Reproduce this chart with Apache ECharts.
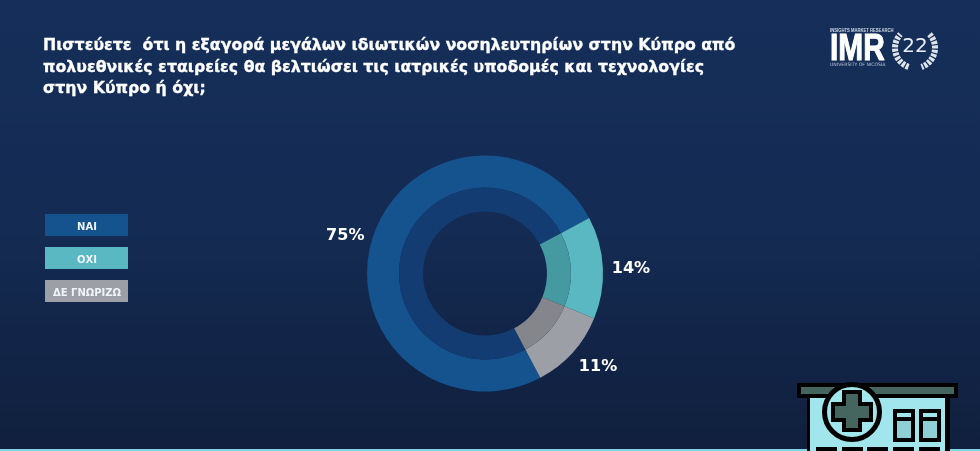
<!DOCTYPE html>
<html>
<head>
<meta charset="utf-8">
<script src="https://cdn.jsdelivr.net/npm/echarts@6/dist/echarts.min.js"></script>
<style>html,body{margin:0;padding:0;background:#11264c}#main{width:980px;height:451px}</style>
</head>
<body>
<div id="main"></div>
<script>
var categories = ['ΝΑΙ', 'ΟΧΙ', 'ΔΕ ΓΝΩΡΙΖΩ'];
var values = [75, 14, 11];
var outerColors = ['#15538f', '#5ab8c2', '#9d9fa6'];
var innerColors = ['#123c72', '#459aa2', '#85868c'];
var titleText = 'Πιστεύετε  ότι η εξαγορά μεγάλων ιδιωτικών νοσηλευτηρίων στην Κύπρο από\n' +
    'πολυεθνικές εταιρείες θα βελτιώσει τις ιατρικές υποδομές και τεχνολογίες\n' +
    'στην Κύπρο ή όχι;';

var font = 'DejaVu Sans';
var labelShift = [[3, -1], [-2, 1], [-3, 10]];
var chart = echarts.init(document.getElementById('main'));

function rect(x, y, w, h, fill, z) {
    return {type: 'rect', shape: {x: x, y: y, width: w, height: h}, style: {fill: fill}, z: z || 10};
}
function label(x, y, text, size, weight, fill, align) {
    return {type: 'text', x: x, y: y, z: 12, style: {text: text, fontFamily: font, fontSize: size, fontWeight: weight, fill: fill, align: align || 'left', verticalAlign: 'middle'}};
}

var graphic = [];
// legend boxes
var legendY = [214, 247, 280];
categories.forEach(function (name, i) {
    graphic.push(rect(45, legendY[i], 83, 22, outerColors[i]));
    graphic.push(label(87, legendY[i] + 13.5, name, 10, 'bold', '#eef3f8', 'center'));
});

// logo
var imrCaption = label(830, 31, 'INSIGHTS MARKET RESEARCH', 4.5, 'bold', '#cfd8e4');
imrCaption.style.fontFamily = 'Liberation Sans';
imrCaption.scaleX = 0.93;
graphic.push(imrCaption);
graphic.push({type: 'text', x: 830, y: 50.5, z: 12, scaleX: 0.83, style: {text: 'IMR', fontFamily: 'Liberation Sans', fontSize: 36, fontWeight: 'bold', fill: '#ffffff', stroke: '#ffffff', lineWidth: 1, verticalAlign: 'middle'}});
graphic.push(label(830, 65, 'UNIVERSITY OF NICOSIA', 4.6, 'normal', '#b9c4d3'));
graphic.push(label(915, 47, '22', 20, 'normal', '#e8edf3', 'center'));
graphic.push({type: 'arc', z: 12, shape: {cx: 915, cy: 48, r: 20, startAngle: 1.9, endAngle: 3.9}, style: {stroke: '#dfe4ea', fill: null, lineWidth: 6, lineDash: [3, 1.2]}});
graphic.push({type: 'arc', z: 12, shape: {cx: 915, cy: 48, r: 20, startAngle: -0.76, endAngle: 1.24}, style: {stroke: '#dfe4ea', fill: null, lineWidth: 6, lineDash: [3, 1.2]}});

// bottom line and hospital icon
graphic.push(rect(0, 449, 980, 2, '#7fd4e4', 9));
graphic.push(rect(807, 395, 143, 56, '#000000'));
graphic.push(rect(810, 398, 135, 53, '#a0e6ec'));
graphic.push(rect(797, 383, 161, 15, '#000000'));
graphic.push(rect(801, 387, 153, 7, '#45665f', 11));
graphic.push({type: 'circle', z: 11, shape: {cx: 852, cy: 412, r: 27.5}, style: {fill: '#a0e6ec', stroke: '#000000', lineWidth: 5}});
graphic.push(rect(842, 390, 20, 42, '#000000', 12));
graphic.push(rect(831, 402, 42, 20, '#000000', 12));
graphic.push(rect(846, 394, 12, 34, '#45665f', 13));
graphic.push(rect(835, 406, 34, 12, '#45665f', 13));
[893, 919].forEach(function (x) {
    graphic.push(rect(x, 409, 22, 33, '#000000', 11));
    graphic.push(rect(x + 4, 413, 14, 4, '#a0e6ec', 12));
    graphic.push(rect(x + 4, 421, 14, 17, '#8fcfd6', 12));
});
[816, 842, 867, 893, 919].forEach(function (x) {
    graphic.push(rect(x, 447, 21, 4, '#000000', 12));
});

var option = {
    backgroundColor: new echarts.graphic.LinearGradient(0, 0, 0, 1, [
        {offset: 0, color: '#152f5a'},
        {offset: 0.5, color: '#142b53'},
        {offset: 1, color: '#101f3d'}
    ]),
    animation: false,
    title: {
        text: titleText, left: 38, top: 30,
        textStyle: {
            color: '#ffffff', fontFamily: font, fontSize: 15.75, fontWeight: 'bold', lineHeight: 21.7,
            textBorderColor: '#ffffff', textBorderWidth: 0.3
        }
    },
    graphic: graphic,
    series: [{
        name: 'outer', type: 'pie', center: [485, 273.5], radius: [86, 118],
        startAngle: 298, clockwise: true, silent: true,
        label: {
            show: true, position: 'outside', formatter: '{c}%',
            color: '#ffffff', fontFamily: font, fontSize: 16, fontWeight: 'bold'
        },
        labelLine: {show: false, length: 6, length2: 0},
        labelLayout: function (params) {
            return {dx: labelShift[params.dataIndex][0], dy: labelShift[params.dataIndex][1]};
        },
        data: categories.map(function (name, i) {
            return {name: name, value: values[i], itemStyle: {color: outerColors[i]}};
        })
    }, {
        name: 'inner', type: 'pie', center: [485, 273.5], radius: [62, 86],
        startAngle: 298, clockwise: true, silent: true,
        label: {show: false}, labelLine: {show: false},
        data: categories.map(function (name, i) {
            return {name: name, value: values[i], itemStyle: {color: innerColors[i]}};
        })
    }]
};
chart.setOption(option);
</script>
</body>
</html>
